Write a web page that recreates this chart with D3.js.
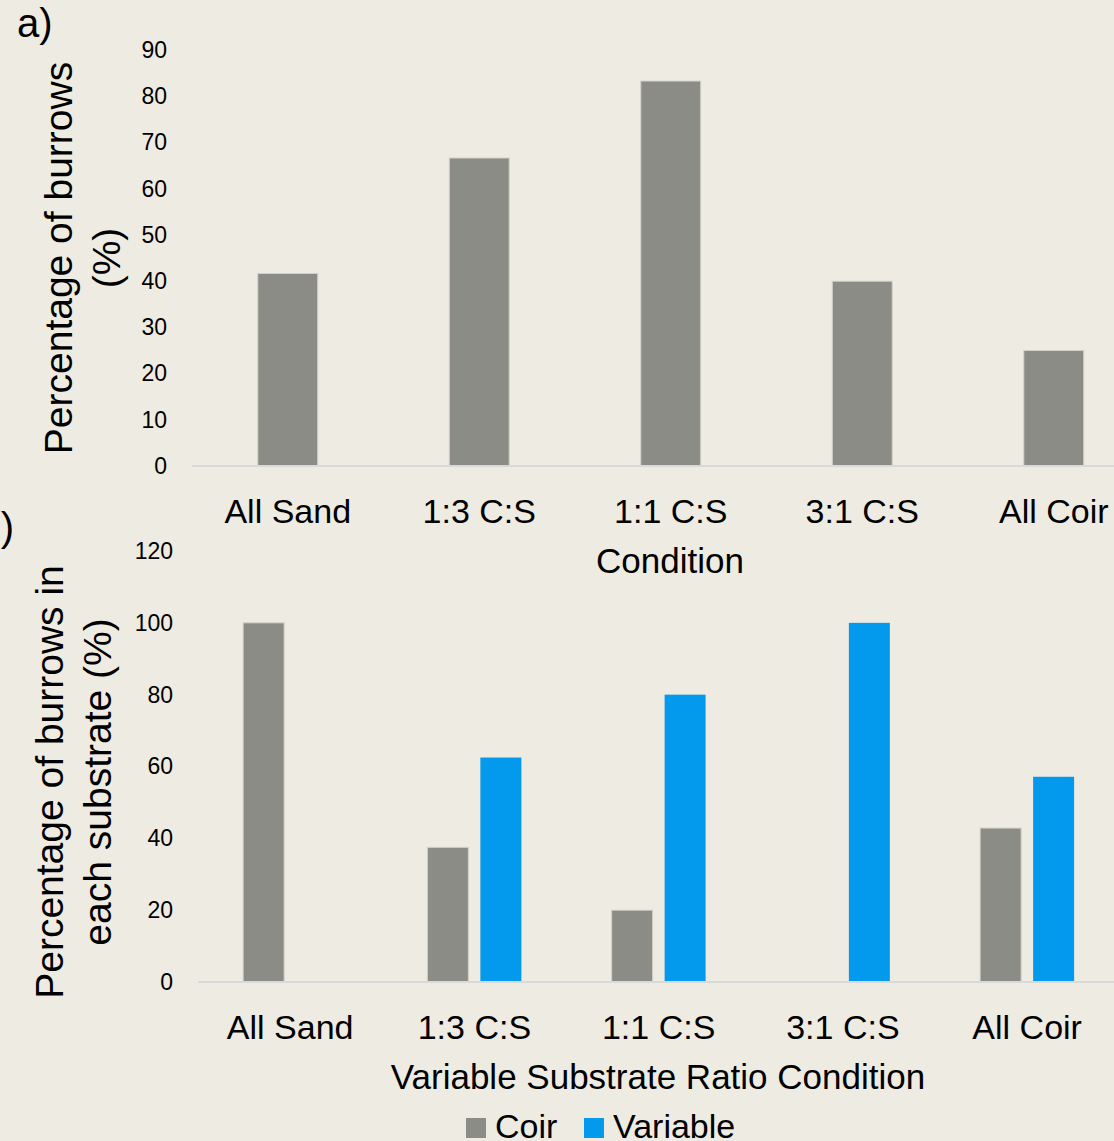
<!DOCTYPE html>
<html>
<head>
<meta charset="utf-8">
<script src="https://cdn.jsdelivr.net/npm/d3@7"></script>
<style>
  html, body { margin: 0; padding: 0; background: #eeebe3; }
  svg { display: block; }
  text { font-family: "Liberation Sans", Arial, sans-serif; fill: #000; }
</style>
</head>
<body>
<svg id="chart" width="1114" height="1141"></svg>
<script>
// ---- data ----
const categories = ["All Sand", "1:3 C:S", "1:1 C:S", "3:1 C:S", "All Coir"];
const burrowPct = [41.67, 66.67, 83.33, 40, 25];
const seriesNames = ["Coir", "Variable"];
const coirPct = [100, 37.5, 20, 0, 42.86];
const variablePct = [0, 62.5, 80, 100, 57.14];
const ticksA = [0, 10, 20, 30, 40, 50, 60, 70, 80, 90];
const ticksB = [0, 20, 40, 60, 80, 100, 120];

const colors = { Coir: "#8b8c85", Variable: "#039aee" };
const barStroke = "#d4d2c8";
const axisColor = "#d9d9d9";

const svg = d3.select("#chart");
svg.append("rect").attr("width", 1114).attr("height", 1141).attr("fill", "#eeebe3");

// ================= Panel a =================
const gA = svg.append("g");
const xA = d3.scaleBand().domain(categories).range([192, 1149.5]).paddingInner(0.687).paddingOuter(0.3435);
const yA = d3.scaleLinear().domain([0, 90]).range([466, 50.2]);

gA.selectAll("rect.bar").data(categories).join("rect")
  .attr("class", "bar")
  .attr("x", d => xA(d))
  .attr("width", xA.bandwidth())
  .attr("y", (d, i) => yA(burrowPct[i]))
  .attr("height", (d, i) => yA(0) - yA(burrowPct[i]))
  .attr("fill", colors.Coir)
  .attr("stroke", barStroke).attr("stroke-width", 1);

gA.append("line").attr("x1", 192).attr("x2", 1150).attr("y1", yA(0)).attr("y2", yA(0))
  .attr("stroke", axisColor).attr("stroke-width", 2);

const axA = gA.append("g").attr("transform", "translate(192,0)")
  .call(d3.axisLeft(yA).tickValues(ticksA).tickSize(0).tickPadding(25).tickFormat(d3.format("d")));
axA.select(".domain").remove();
axA.selectAll("text").style("font-size", "23px").style("font-family", "Liberation Sans, Arial, sans-serif").attr("fill", "#000");

const bxA = gA.append("g").attr("transform", `translate(0,${yA(0)})`)
  .call(d3.axisBottom(xA).tickSize(0).tickPadding(0));
bxA.select(".domain").remove();
bxA.selectAll("text").attr("dy", null).attr("y", 57).style("font-size", "34px")
  .style("font-family", "Liberation Sans, Arial, sans-serif").attr("fill", "#000");

gA.append("text").attr("x", 670).attr("y", 573).attr("text-anchor", "middle")
  .style("font-size", "35px").text("Condition");

const tA = gA.append("text").attr("transform", "translate(72,258) rotate(-90)")
  .attr("text-anchor", "middle").style("font-size", "39px");
tA.append("tspan").attr("x", 0).attr("y", 0).text("Percentage of burrows");
tA.append("tspan").attr("x", 0).attr("y", 48).text("(%)");

gA.append("text").attr("x", 17).attr("y", 37).style("font-size", "40px").text("a)");

// ================= Panel b =================
const gB = svg.append("g");
const xB = d3.scaleBand().domain(categories).range([198, 1119.25]).paddingInner(0.49).paddingOuter(0.245);
const x1 = d3.scaleBand().domain(seriesNames).range([0, xB.bandwidth()]).paddingInner(0.2264);
const yB = d3.scaleLinear().domain([0, 120]).range([982, 551]);

const seriesVals = { Coir: coirPct, Variable: variablePct };
const groups = gB.selectAll("g.grp").data(categories).join("g")
  .attr("class", "grp").attr("transform", d => `translate(${xB(d)},0)`);
groups.selectAll("rect").data((d, i) => seriesNames.map(s => ({ s, v: seriesVals[s][i] })).filter(o => o.v > 0))
  .join("rect")
  .attr("x", o => x1(o.s))
  .attr("width", x1.bandwidth())
  .attr("y", o => yB(o.v))
  .attr("height", o => yB(0) - yB(o.v))
  .attr("fill", o => colors[o.s])
  .attr("stroke", o => o.s === "Coir" ? barStroke : "none").attr("stroke-width", 1);

gB.append("line").attr("x1", 198).attr("x2", 1120).attr("y1", yB(0)).attr("y2", yB(0))
  .attr("stroke", axisColor).attr("stroke-width", 2);

const axB = gB.append("g").attr("transform", "translate(198,0)")
  .call(d3.axisLeft(yB).tickValues(ticksB).tickSize(0).tickPadding(25).tickFormat(d3.format("d")));
axB.select(".domain").remove();
axB.selectAll("text").style("font-size", "23px").style("font-family", "Liberation Sans, Arial, sans-serif").attr("fill", "#000");

const bxB = gB.append("g").attr("transform", `translate(0,${yB(0)})`)
  .call(d3.axisBottom(xB).tickSize(0).tickPadding(0));
bxB.select(".domain").remove();
bxB.selectAll("text").attr("dy", null).attr("y", 57).style("font-size", "34px")
  .style("font-family", "Liberation Sans, Arial, sans-serif").attr("fill", "#000");

gB.append("text").attr("x", 658).attr("y", 1089).attr("text-anchor", "middle")
  .style("font-size", "35px").text("Variable Substrate Ratio Condition");

const tB = gB.append("text").attr("transform", "translate(63,782) rotate(-90)")
  .attr("text-anchor", "middle").style("font-size", "39px");
tB.append("tspan").attr("x", 0).attr("y", 0).text("Percentage of burrows in");
tB.append("tspan").attr("x", 0).attr("y", 48).text("each substrate (%)");

gB.append("text").attr("x", 14).attr("y", 541).attr("text-anchor", "end").style("font-size", "40px").text("b)");

// legend
const legend = gB.append("g");
const legX = [466, 584];
seriesNames.forEach((s, i) => {
  legend.append("rect").attr("x", legX[i]).attr("y", 1118).attr("width", 20).attr("height", 20).attr("fill", colors[s]);
  legend.append("text").attr("x", legX[i] + 29).attr("y", 1138).style("font-size", "34px").text(s);
});
</script>
</body>
</html>
